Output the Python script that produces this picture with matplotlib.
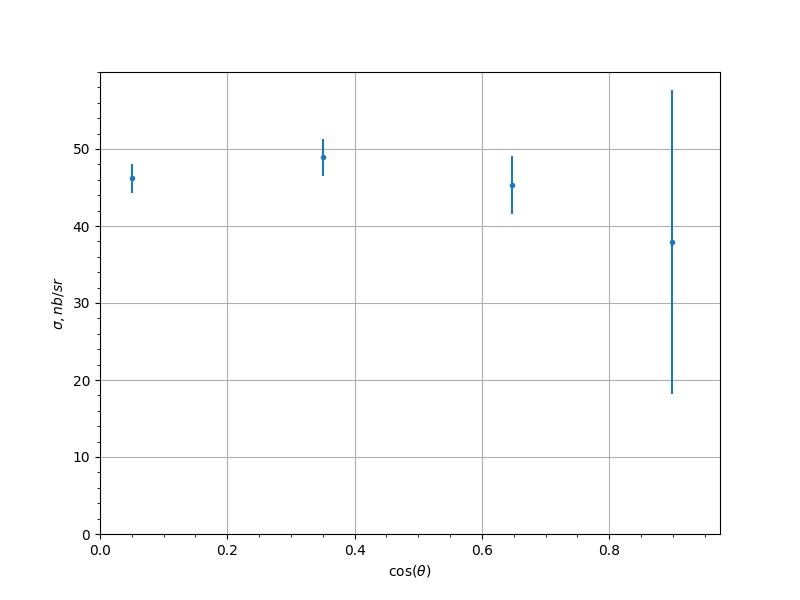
import matplotlib
matplotlib.use("Agg")
import matplotlib.pyplot as plt

cos_theta = [0.05, 0.35, 0.648, 0.899]
sigma = [46.2, 48.9, 45.3, 37.9]
sigma_err = [1.9, 2.4, 3.8, 19.7]

fig, ax = plt.subplots(figsize=(8, 6), dpi=100)
ax.errorbar(cos_theta, sigma, yerr=sigma_err, fmt='.')
ax.set_xlim(0, 0.974)
ax.set_ylim(0, 60)
ax.set_yticks([0, 10, 20, 30, 40, 50])
ax.minorticks_on()
ax.grid(True, which='major')
ax.set_xlabel(r'cos($\theta$)')
ax.set_ylabel(r'$\sigma, nb/sr$')
fig.savefig('out.png')
